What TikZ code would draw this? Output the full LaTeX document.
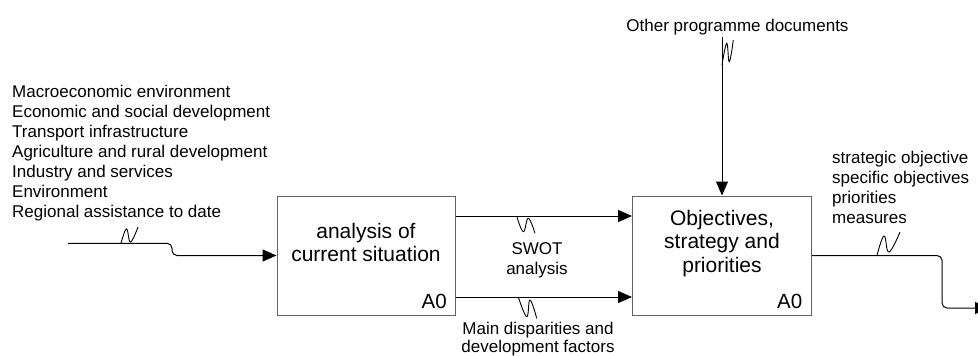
\documentclass[tikz,border=0pt]{standalone}
\usepackage{fontspec}
\setmainfont{Liberation Sans}
\usetikzlibrary{arrows.meta}
\definecolor{boxgray}{RGB}{100,100,100}
\begin{document}
\begin{tikzpicture}[x=1pt,y=-1pt,
  box/.style={draw=boxgray, line width=1pt, minimum width=178pt, minimum height=119pt, inner sep=0pt},
  boxtext/.style={font=\fontsize{21}{23.4}\selectfont, align=center, inner sep=0pt},
  code/.style={font=\fontsize{20.5}{24}\selectfont, inner sep=0pt},
  lbl/.style={font=\fontsize{17}{19.9}\selectfont, inner sep=0pt},
  arr/.style={draw=black, line width=1pt, -{Triangle[length=14pt,width=12pt]}},
  tilde/.style={draw=black, line width=0.9pt},
]
\useasboundingbox (0,0) rectangle (978,356);
\clip (0,0) rectangle (978,356);

% boxes
\node[box] (b1) at (366,255.5) {};
\node[box, minimum width=179pt] (b2) at (722,255.5) {};
\node[boxtext, anchor=north] (t1) at (366,223) {analysis of\\current situation};
\node[boxtext, anchor=north] (t2) at (722,209.8) {Objectives,\\strategy and\\priorities};
\node[code, anchor=base east] (c1) at (447,308.3) {A0};
\node[code, anchor=base east] (c2) at (802.5,308.3) {A0};

% labels
\node[lbl, align=left, anchor=north west] (inlbl) at (12,85.1) {Macroeconomic environment\\Economic and social development\\Transport infrastructure\\Agriculture and rural development\\Industry and services\\Environment\\Regional assistance to date};
\node[lbl, anchor=base] (ctllbl) at (737.5,31) {Other programme documents};
\node[lbl, align=center, anchor=north] (swot) at (537,242.8) {SWOT\\analysis};
\node[lbl, align=center, anchor=north, font=\fontsize{17}{17.8}\selectfont] (disp) at (538,322.3) {Main disparities and\\development factors};
\node[lbl, align=left, anchor=north west] (outlbl) at (832,150.8) {strategic objective\\specific objectives\\priorities\\measures};

% connectors
\coordinate (src) at (68,243.3);
\draw[arr, rounded corners=5pt] (src) -- (172,243.3) |- (b1.west);
\draw[arr] (b1.east |- 0,216) -- (b2.west |- 0,216);
\draw[arr] (b1.east |- 0,297) -- (b2.west |- 0,297);
\coordinate (ctl) at (b2.north |- 0,37);
\draw[arr] (ctl) -- (b2.north);
\coordinate (dst) at (989,308);
\draw[arr, rounded corners=5pt] (b2.east) -- (942,255.5) |- (dst);

% tildes
\draw[tilde] plot[smooth, tension=0.7] coordinates {(121,243.3) (126.5,229) (130.5,242) (138,227)};
\draw[tilde] plot[smooth, tension=0.7] coordinates {(516.7,216) (523.3,231.7) (528.3,218.3) (535,233.3)};
\draw[tilde] plot[smooth, tension=0.7] coordinates {(518.3,297) (526.7,316.7) (530,300) (536.7,318.3)};
\draw[tilde] plot[smooth, tension=0.7] coordinates {(722,65) (726.7,43.3) (729.3,61.7) (733.3,40)};
\draw[tilde] plot[smooth, tension=0.7] coordinates {(877,255.5) (884,236) (889,252) (900,232)};
\end{tikzpicture}
\end{document}
